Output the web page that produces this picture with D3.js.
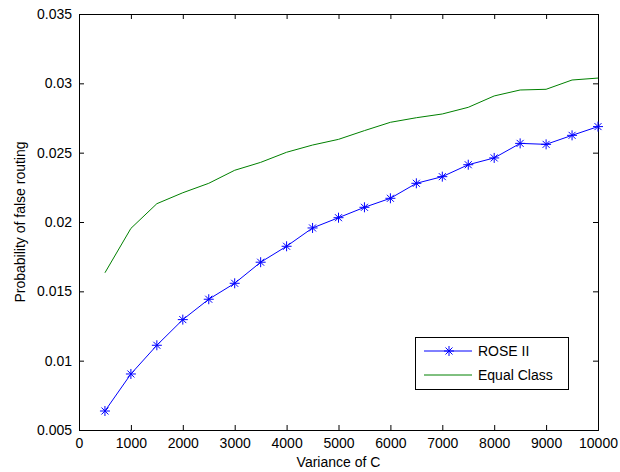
<!DOCTYPE html>
<html><head><meta charset="utf-8">
<script src="https://cdn.jsdelivr.net/npm/d3@7"></script>
<style>body{margin:0;background:#fff}svg{display:block}text{font-family:"Liberation Sans",Arial,sans-serif}</style>
</head><body>
<svg id="c" width="620" height="472"></svg>
<script>
const variance = [500,1000,1500,2000,2500,3000,3500,4000,4500,5000,5500,6000,6500,7000,7500,8000,8500,9000,9500,10000];
const roseII = [0.00637,0.00904,0.01111,0.01296,0.01443,0.01558,0.0171,0.01825,0.01957,0.02031,0.02106,0.02171,0.02279,0.02327,0.02413,0.02462,0.02567,0.0256,0.02625,0.02688];
const equalClass = [0.01634,0.01954,0.02132,0.02211,0.02279,0.02373,0.0243,0.02503,0.02555,0.02596,0.02659,0.02719,0.02752,0.02779,0.02827,0.02909,0.02952,0.02957,0.03024,0.03038];
const xTicks = [0,1000,2000,3000,4000,5000,6000,7000,8000,9000,10000];
const yTicks = [0.005,0.01,0.015,0.02,0.025,0.03,0.035];
const yTickLabels = ["0.005","0.01","0.015","0.02","0.025","0.03","0.035"];
const seriesNames = ["ROSE II","Equal Class"];

const svg = d3.select("#c");
const L=79,R=598,T=14,B=430;
const x = d3.scaleLinear().domain([0,10000]).range([L,R]);
const y = d3.scaleLinear().domain([0.005,0.035]).range([B,T]);
const fs = 14;

svg.append("rect").attr("x",L).attr("y",T).attr("width",R-L).attr("height",B-T).attr("fill","#fff");

const ax = d3.axisBottom(x).tickValues(xTicks).tickSize(-5).tickPadding(8).tickFormat(d3.format("d"));
const gx = svg.append("g").attr("transform",`translate(0,${B})`).call(ax);
const axT = d3.axisTop(x).tickValues(xTicks).tickSize(-5).tickFormat("");
const gxt = svg.append("g").attr("transform",`translate(0,${T})`).call(axT);
const ay = d3.axisLeft(y).tickValues(yTicks).tickSize(-5).tickPadding(7).tickFormat((d,i)=>yTickLabels[i]);
const gy = svg.append("g").attr("transform",`translate(${L},0)`).call(ay);
const ayR = d3.axisRight(y).tickValues(yTicks).tickSize(-5).tickFormat("");
const gyr = svg.append("g").attr("transform",`translate(${R},0)`).call(ayR);
[gx,gxt,gy,gyr].forEach(g=>{
  g.selectAll("path.domain").attr("stroke","#000").attr("stroke-width",1);
  g.selectAll(".tick line").attr("stroke","#000");
  g.selectAll("text").attr("font-size",fs).attr("fill","#000").style("font-family",'"Liberation Sans",Arial,sans-serif');
});

const line = d3.line().x((d,i)=>x(variance[i])).y(d=>y(d));
svg.append("path").datum(equalClass).attr("d",line).attr("fill","none").attr("stroke","#008000").attr("stroke-width",1);
svg.append("path").datum(roseII).attr("d",line).attr("fill","none").attr("stroke","#0000ff").attr("stroke-width",1);

function star(g,cx,cy,r){
  const p = `M${cx-r},${cy}L${cx+r},${cy}M${cx},${cy-r}L${cx},${cy+r}`+
    `M${cx-r*0.7},${cy-r*0.7}L${cx+r*0.7},${cy+r*0.7}M${cx-r*0.7},${cy+r*0.7}L${cx+r*0.7},${cy-r*0.7}`;
  g.append("path").attr("d",p).attr("stroke","#0000ff").attr("stroke-width",1).attr("fill","none");
}
const gm = svg.append("g");
roseII.forEach((v,i)=>star(gm,x(variance[i]),y(v),5));

svg.append("text").attr("x",(L+R)/2).attr("y",467).attr("text-anchor","middle").attr("font-size",fs).text("Variance of C");
svg.append("text").attr("transform",`translate(25,${(T+B)/2}) rotate(-90)`).attr("text-anchor","middle").attr("font-size",fs).text("Probability of false routing");

const lg = svg.append("g");
lg.append("rect").attr("x",415.5).attr("y",337.5).attr("width",153).attr("height",52).attr("fill","#fff").attr("stroke","#000");
lg.append("line").attr("x1",424).attr("x2",472).attr("y1",351).attr("y2",351).attr("stroke","#0000ff");
star(lg,449,351,5);
lg.append("line").attr("x1",424).attr("x2",472).attr("y1",375).attr("y2",375).attr("stroke","#008000");
lg.append("text").attr("x",478).attr("y",356).attr("font-size",fs).text(seriesNames[0]);
lg.append("text").attr("x",478).attr("y",380).attr("font-size",fs).text(seriesNames[1]);
</script>
</body></html>
